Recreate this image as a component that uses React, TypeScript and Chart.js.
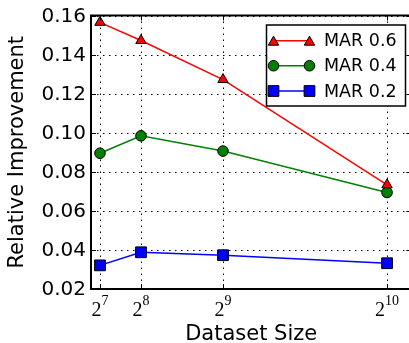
import React, { useEffect, useRef } from 'react';
import { Chart, registerables } from 'chart.js';

Chart.register(...registerables);

// ---- data ----
const datasetSizes = [128, 256, 512, 1024];
const xTickBase = '2';
const xTickExponents = ['7', '8', '9', '10'];
const yTickValues = [0.02, 0.04, 0.06, 0.08, 0.1, 0.12, 0.14, 0.16];
const mar06 = [0.1565, 0.1472, 0.1272, 0.0733];
const mar04 = [0.0895, 0.0984, 0.0906, 0.0694];
const mar02 = [0.0321, 0.0388, 0.0373, 0.0332];
const seriesLabels = ['MAR 0.6', 'MAR 0.4', 'MAR 0.2'];
const xTitle = 'Dataset Size';
const yTitle = 'Relative Improvement';

const CANVAS_W = 420;
const CANVAS_H = 343;
const SANS = '"DejaVu Sans", sans-serif';
const SERIF = '"Liberation Serif", "DejaVu Serif", serif';

const seriesStyles = [
  { color: '#ff0000', pointStyle: 'triangle', radius: 6 },
  { color: '#008000', pointStyle: 'circle', radius: 5.3 },
  { color: '#0000ff', pointStyle: 'rect', radius: 7.6 },
];

const decorPlugin = {
  id: 'decor',
  beforeDatasetsDraw(chart: any) {
    const { ctx, chartArea } = chart;
    const xs = chart.scales.x;
    const ys = chart.scales.y;
    ctx.save();
    ctx.strokeStyle = '#000';
    ctx.lineWidth = 1;
    ctx.setLineDash([1.5, 4.5]);
    yTickValues.forEach((v) => {
      const y = Math.round(ys.getPixelForValue(v)) + 0.5;
      ctx.beginPath();
      ctx.moveTo(chartArea.left, y);
      ctx.lineTo(chartArea.right, y);
      ctx.stroke();
    });
    datasetSizes.forEach((v) => {
      const x = Math.round(xs.getPixelForValue(v)) + 0.5;
      ctx.beginPath();
      ctx.moveTo(x, chartArea.top);
      ctx.lineTo(x, chartArea.bottom);
      ctx.stroke();
    });
    ctx.restore();
  },
  afterDatasetsDraw(chart: any) {
    const { ctx, chartArea } = chart;
    const xs = chart.scales.x;
    const ys = chart.scales.y;
    const { left, right, top, bottom } = chartArea;
    ctx.save();
    ctx.setLineDash([]);
    ctx.strokeStyle = '#000';
    // tick marks (inward)
    ctx.lineWidth = 1;
    const tl = 5;
    yTickValues.forEach((v) => {
      const y = Math.round(ys.getPixelForValue(v)) + 0.5;
      ctx.beginPath();
      ctx.moveTo(left, y);
      ctx.lineTo(left + tl, y);
      ctx.moveTo(right, y);
      ctx.lineTo(right - tl, y);
      ctx.stroke();
    });
    datasetSizes.forEach((v) => {
      const x = Math.round(xs.getPixelForValue(v)) + 0.5;
      ctx.beginPath();
      ctx.moveTo(x, bottom);
      ctx.lineTo(x, bottom - tl);
      ctx.moveTo(x, top);
      ctx.lineTo(x, top + tl);
      ctx.stroke();
    });
    // spines
    ctx.lineWidth = 2;
    ctx.strokeRect(left, top, right - left, bottom - top);

    // y tick labels
    ctx.fillStyle = '#000';
    ctx.font = `20px ${SANS}`;
    ctx.textAlign = 'right';
    ctx.textBaseline = 'middle';
    yTickValues.forEach((v) => {
      const y = ys.getPixelForValue(v);
      ctx.fillText(v.toFixed(2), left - 5, y + 1);
    });

    // x tick labels (2^n)
    ctx.textBaseline = 'alphabetic';
    ctx.textAlign = 'left';
    datasetSizes.forEach((v, i) => {
      const x = xs.getPixelForValue(v);
      ctx.font = `20px ${SERIF}`;
      const bw = ctx.measureText(xTickBase).width;
      ctx.font = `14px ${SERIF}`;
      const ew = ctx.measureText(xTickExponents[i]).width;
      const total = bw + ew;
      const sx = x - total / 2;
      ctx.font = `20px ${SERIF}`;
      ctx.fillText(xTickBase, sx, bottom + 27);
      ctx.font = `14px ${SERIF}`;
      ctx.fillText(xTickExponents[i], sx + bw, bottom + 16);
    });

    // axis titles
    ctx.font = `21px ${SANS}`;
    ctx.textAlign = 'center';
    ctx.textBaseline = 'alphabetic';
    ctx.fillText(xTitle, (left + right) / 2, 340);
    ctx.save();
    ctx.translate(22.5, (top + bottom) / 2);
    ctx.rotate(-Math.PI / 2);
    ctx.fillText(yTitle, 0, 0);
    ctx.restore();

    // legend
    const bx = 266.5, by = 25, bw2 = 139, bh = 81;
    ctx.fillStyle = '#fff';
    ctx.fillRect(bx, by, bw2, bh);
    ctx.lineWidth = 1.5;
    ctx.strokeStyle = '#000';
    ctx.strokeRect(bx, by, bw2, bh);
    const rowsY = [40.7, 65.7, 91];
    chart.data.datasets.forEach((ds: any, i: number) => {
      const yy = rowsY[i];
      const st = seriesStyles[i];
      ctx.strokeStyle = st.color;
      ctx.lineWidth = 1.5;
      ctx.beginPath();
      ctx.moveTo(273.5, yy);
      ctx.lineTo(309.5, yy);
      ctx.stroke();
      ctx.fillStyle = st.color;
      ctx.strokeStyle = '#000';
      ctx.lineWidth = 1;
      const opts = { pointStyle: st.pointStyle, radius: st.radius, borderWidth: 1, rotation: 0 };
      const dy = st.pointStyle === 'triangle' ? st.radius / 4 : 0;
      (Chart as any).helpers
        ? null
        : null;
      drawMarker(ctx, opts, 273.5, yy + dy);
      drawMarker(ctx, opts, 309.5, yy + dy);
      ctx.fillStyle = '#000';
      ctx.font = `17.5px ${SANS}`;
      ctx.textAlign = 'left';
      ctx.textBaseline = 'middle';
      ctx.fillText(ds.label, 324, yy + 1);
    });
    ctx.restore();
  },
};

function drawMarker(ctx: CanvasRenderingContext2D, opts: any, x: number, y: number) {
  const r = opts.radius;
  ctx.beginPath();
  if (opts.pointStyle === 'triangle') {
    ctx.moveTo(x, y - r);
    ctx.lineTo(x + r * Math.sin(Math.PI / 3), y + r / 2);
    ctx.lineTo(x - r * Math.sin(Math.PI / 3), y + r / 2);
    ctx.closePath();
  } else if (opts.pointStyle === 'circle') {
    ctx.arc(x, y, r, 0, Math.PI * 2);
  } else {
    const s = r * Math.SQRT1_2;
    ctx.rect(x - s, y - s, 2 * s, 2 * s);
  }
  ctx.fill();
  ctx.stroke();
}

export default function App() {
  const ref = useRef<HTMLCanvasElement | null>(null);
  useEffect(() => {
    if (!ref.current) return;
    const seriesValues = [mar06, mar04, mar02];
    const chart = new Chart(ref.current, {
      type: 'line',
      data: {
        datasets: seriesValues.map((vals, i) => ({
          label: seriesLabels[i],
          data: datasetSizes.map((x, j) => ({ x, y: vals[j] })),
          borderColor: seriesStyles[i].color,
          backgroundColor: seriesStyles[i].color,
          pointBackgroundColor: seriesStyles[i].color,
          pointBorderColor: '#000',
          pointBorderWidth: 1,
          pointStyle: seriesStyles[i].pointStyle as any,
          pointRadius: seriesStyles[i].radius,
          borderWidth: 1.5,
          tension: 0,
          fill: false,
          clip: false as any,
        })),
      },
      options: {
        animation: false,
        responsive: false,
        devicePixelRatio: 1,
        events: [],
        layout: { padding: { left: 0, top: 15.5, right: CANVAS_W - 413.4, bottom: 0 } },
        plugins: { legend: { display: false }, tooltip: { enabled: false }, title: { display: false } },
        scales: {
          x: {
            type: 'linear',
            min: 100,
            max: 1100,
            grid: { display: false },
            border: { display: false },
            ticks: { display: false },
            afterFit: (s: any) => { s.height = CANVAS_H - 289; },
          },
          y: {
            type: 'linear',
            min: 0.02,
            max: 0.16,
            grid: { display: false },
            border: { display: false },
            ticks: { display: false },
            afterFit: (s: any) => { s.width = 91; },
          },
        },
      },
      plugins: [decorPlugin],
    });
    return () => chart.destroy();
  }, []);
  return (
    <div style={{ position: 'fixed', left: 0, top: 0, width: 409, height: 343, overflow: 'hidden', background: '#fff' }}>
      <canvas ref={ref} width={CANVAS_W} height={CANVAS_H} style={{ display: 'block' }} />
    </div>
  );
}
